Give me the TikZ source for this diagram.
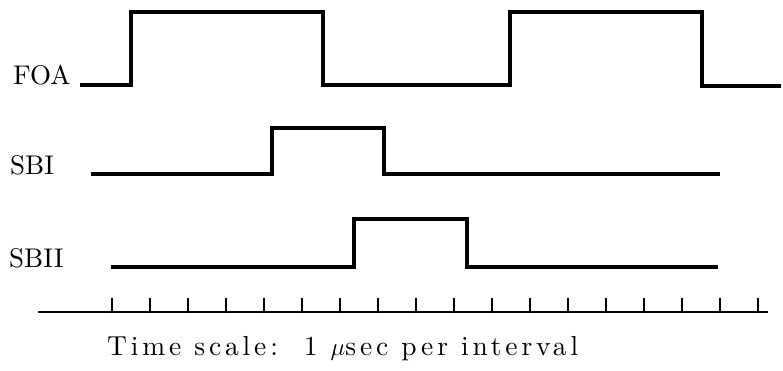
\documentclass[tikz,border=0pt]{standalone}
\usepackage{fontspec}
\newfontfamily\lmten{lmroman10-regular.otf}
\newfontfamily\lmwide{lmroman10-regular.otf}[LetterSpace=14]
\usetikzlibrary{positioning}
\tikzset{
  sig/.style    ={line width=3.2pt, line join=miter},
  siglab/.style ={font=\lmten\fontsize{27}{30}\selectfont, anchor=base west, inner sep=0pt},
  axisline/.style={line width=2.8pt},
  tickmark/.style={line width=2.6pt},
}

\begin{document}
\begin{tikzpicture}[x=1pt, y=-1pt]
\useasboundingbox (0,0) rectangle (783,370);

%% Signal labels
\node[siglab] (foa)  at (13,84)  {FOA};
\node[siglab] (sbi)  at (10,174) {SBI};
\node[siglab] (sbii) at (9,267)  {SBII};

%% Start points of the traces
\coordinate (foa0)  at (80,85);
\coordinate (sbi0)  at (91,174);
\coordinate (sbii0) at (111,267);

%% Traces
\draw[sig] (foa0) -- (131,85) -- (131,12) -- (323,12) -- (323,85)
           -- (510,85) -- (510,12) -- (702,12) -- (702,86) -- (781,86);
\draw[sig] (sbi0) -- (272,174) -- (272,128) -- (384,128) -- (384,174) -- (720,174);
\draw[sig] (sbii0) -- (354,267) -- (354,219) -- (467,219) -- (467,267) -- (718,267);

%% Time axis
\coordinate (ax0) at (38,312);
\coordinate (ax1) at (768,312);
\draw[axisline] (ax0) -- (ax1);
\foreach \i in {0,...,17}
  \draw[tickmark] (112+38*\i,313) -- (112+38*\i,298);

\node[siglab, font=\lmwide\fontsize{27.5}{30}\selectfont]
  (scale) at (107,355) {Time scale:\ \ 1 $\mu$sec per interval};

\end{tikzpicture}
\end{document}
